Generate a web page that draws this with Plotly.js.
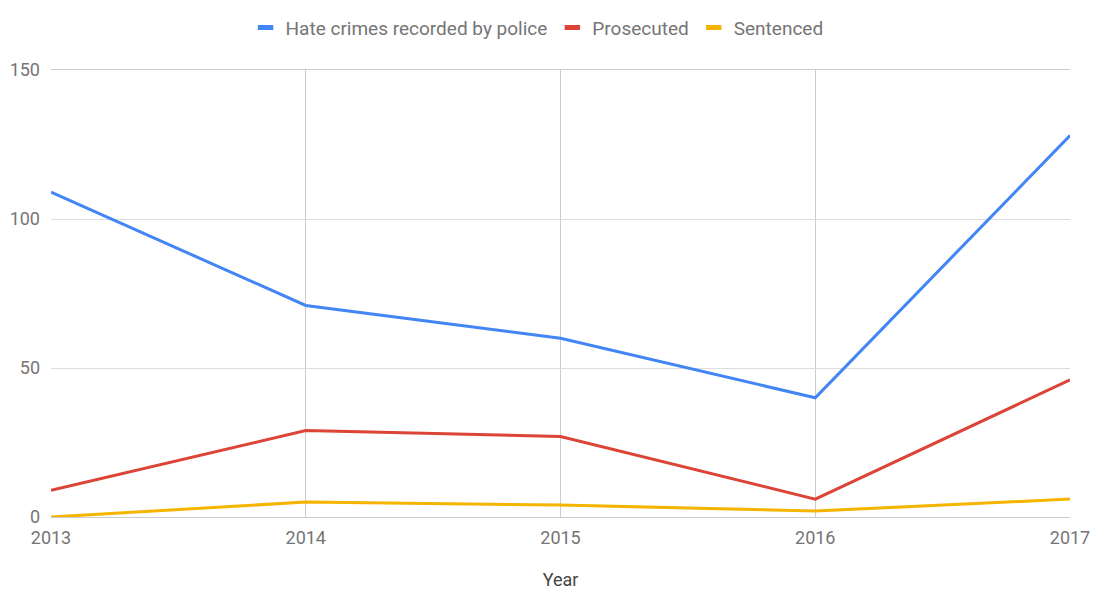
<!DOCTYPE html>
<html><head><meta charset="utf-8">
<script src="https://cdn.plot.ly/plotly-3.0.1.min.js"></script>
<style>html,body{margin:0;padding:0;background:#fff}#chart{width:1094px;height:590px}</style>
</head><body><div id="chart"></div>
<script>
const years = ['2013','2014','2015','2016','2017'];
const recorded = [109, 71, 60, 40, 128];
const prosecuted = [9, 29, 27, 6, 46];
const sentenced = [0, 5, 4, 2, 6];
const seriesNames = ['Hate crimes recorded by police','Prosecuted','Sentenced'];
const colors = ['#4285f4','#db4437','#f4b400'];
const yTicks = [0, 50, 100, 150];

const lines = [recorded, prosecuted, sentenced].map((v,i)=>({
  x: years, y: v, type:'scatter', mode:'lines', name: seriesNames[i],
  legendgroup: 'g'+i, showlegend:false,
  line:{color: colors[i], width: 3}
}));
// legend swatches (rectangular keys, as in the reference)
const keys = seriesNames.map((n,i)=>({
  x:[null], y:[null], type:'scatter', mode:'markers', name:n, legendgroup:'g'+i,
  marker:{symbol:'line-ew', size:11, color:colors[i], line:{color:colors[i], width:5}}
}));

const layout = {
  width:1094, height:590,
  margin:{l:51, r:24, t:70, b:73},
  font:{family:'Roboto, sans-serif', color:'#757575', size:18},
  paper_bgcolor:'#fff', plot_bgcolor:'#fff',
  showlegend:true,
  legend:{orientation:'h', x:0.477, xanchor:'center', y:0.953, yanchor:'middle', yref:'container',
    font:{size:19, color:'#757575'}, traceorder:'normal'},
  xaxis:{type:'category', range:[0,4], showgrid:true, gridcolor:'#cccccc', gridwidth:1,
    showline:true, linecolor:'#cccccc', mirror:true, zeroline:false, ticks:'', ticklen:0,
    tickfont:{size:18, color:'#757575'}, ticklabelstandoff:4,
    title:{text:'Year', font:{size:18, color:'#444'}, standoff:30}},
  yaxis:{range:[0,150], tickvals:yTicks, showgrid:true, gridcolor:'#dddddd', gridwidth:1,
    showline:false, zeroline:true, zerolinecolor:'#777777', zerolinewidth:2, ticks:'',
    tickfont:{size:18, color:'#757575'}, ticklabelstandoff:10}
};
Plotly.newPlot('chart', lines.concat(keys), layout, {displayModeBar:false, staticPlot:true});
</script></body></html>
